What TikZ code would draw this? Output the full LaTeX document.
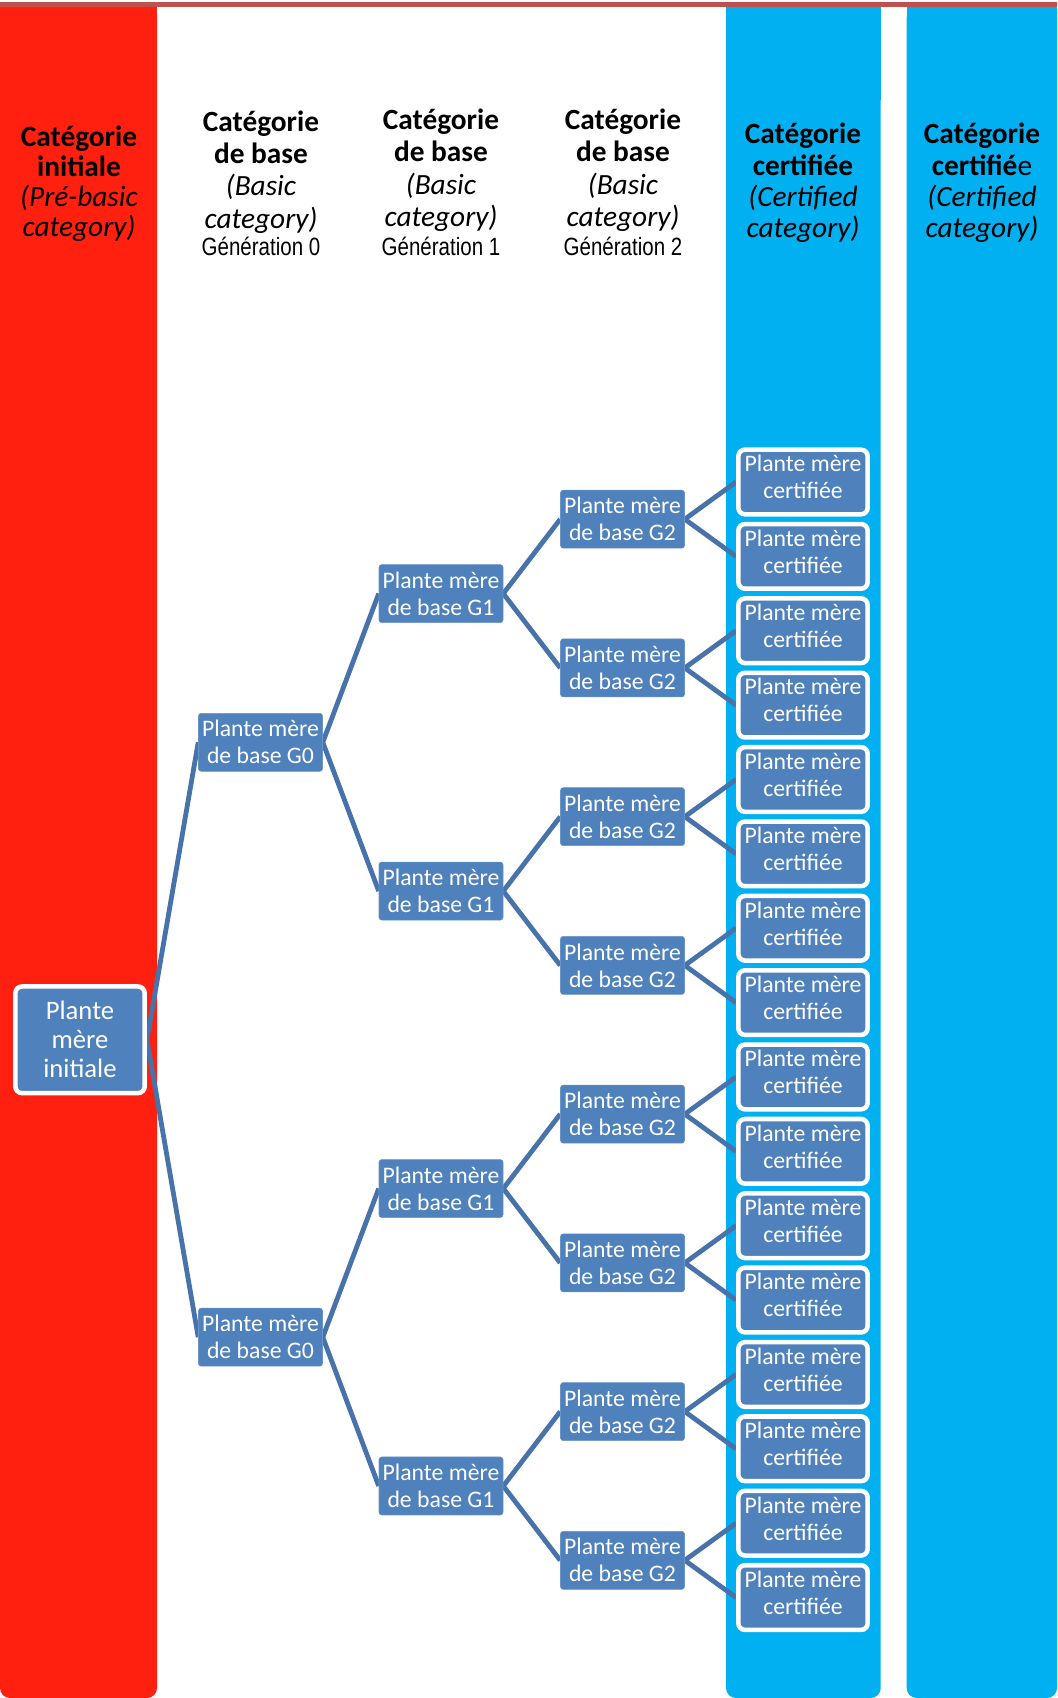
\documentclass[tikz,border=0pt]{standalone}
\usepackage{fontspec}
\setmainfont{Carlito}
\newfontfamily\narrowfont[FakeStretch=0.82]{Liberation Sans}
\usetikzlibrary{backgrounds}
\definecolor{initred}{RGB}{255,32,16}
\definecolor{certcyan}{RGB}{0,176,240}
\definecolor{nodeblue}{RGB}{79,129,189}
\definecolor{linkblue}{RGB}{72,114,170}
\definecolor{topline}{RGB}{192,80,77}
\newcommand{\gentext}[1]{{\narrowfont\fontsize{18.75}{19.5}\selectfont #1}}
\tikzset{
  basebox/.style={fill=nodeblue, draw=nodeblue!85!white, line width=0.4pt, rounded corners=2pt,
    minimum width=93pt, minimum height=43.5pt, inner sep=0pt, align=center, text=white,
    font=\fontsize{17.8}{20.25}\selectfont},
  certbox/.style={basebox, draw=white, line width=3.4pt, rounded corners=5pt,
    minimum width=97pt, minimum height=48.5pt, text depth=7.4pt},
  initbox/.style={certbox, text depth=, minimum height=80pt, font=\fontsize{20}{21.75}\selectfont},
  headtext/.style={anchor=north, inner sep=0pt, align=center, font=\fontsize{22}{23.5}\selectfont},
  link/.style={draw=linkblue, line width=3.6pt},
}
\begin{document}
\begin{tikzpicture}[x=0.75pt, y=-0.75pt]
    \useasboundingbox (0,0) rectangle (1057,1698);
    % category columns
    \begin{scope}[on background layer]
        \fill[white] (0,0) rectangle (1057,1698);
        \fill[initred, rounded corners=7.5pt] (0,7) rectangle (157,1698);
        \fill[initred] (0,7) rectangle (157,100);
        \fill[certcyan, rounded corners=7.5pt] (726,7) rectangle (880.7,1698);
        \fill[certcyan] (726,7) rectangle (880.7,100);
        \fill[certcyan, rounded corners=7.5pt] (906.7,7) rectangle (1057,1698);
        \fill[certcyan] (906.7,7) rectangle (1057,100);
    \end{scope}
    \draw[topline, line width=3.75pt] (0,4.5) -- (1057,4.5);

    % column headings
    \node[headtext, font=\fontsize{22}{22.5}\selectfont] (head-init) at (79,126) {\textbf{Catégorie}\\\textbf{initiale}\\\textit{(Pré-basic}\\\textit{category)}};
    \node[headtext] (head-g0) at (261,111) {\textbf{Catégorie}\\\textbf{de base}\\[1pt]\textit{(Basic}\\[0.75pt]\textit{category)}\\[-3pt]\gentext{Génération 0}};
    \node[headtext] (head-g1) at (441,109) {\textbf{Catégorie}\\\textbf{de base}\\[1.5pt]\textit{(Basic}\\[0.75pt]\textit{category)}\\[-2pt]\gentext{Génération 1}};
    \node[headtext] (head-g2) at (623,109) {\textbf{Catégorie}\\\textbf{de base}\\[1.5pt]\textit{(Basic}\\[0.75pt]\textit{category)}\\[-2pt]\gentext{Génération 2}};
    \node[headtext] (head-cert1) at (803,123) {\textbf{Catégorie}\\\textbf{certifiée}\\\textit{(Certified}\\\textit{category)}};
    \node[headtext] (head-cert2) at (982,123) {\textbf{Catégorie}\\\textbf{certifié}e\\\textit{(Certified}\\\textit{category)}};

    % plants
    \node[initbox] (init) at (80,1039.8) {Plante\\mère\\initiale};
    \foreach \i in {1,2}
        \node[basebox] (g0-\i) at (260.5,{742.3+594.9*(\i-1)}) {Plante mère\\de base G0};
    \foreach \i in {1,...,4}
        \node[basebox] (g1-\i) at (441,{593.6+297.46*(\i-1)}) {Plante mère\\de base G1};
    \foreach \i in {1,...,8}
        \node[basebox] (g2-\i) at (622.5,{519.2+148.73*(\i-1)}) {Plante mère\\de base G2};
    \foreach \i in {1,...,16}
        \node[certbox] (cert-\i) at (803,{482+74.37*(\i-1)}) {Plante mère\\certifiée};

    % links
    \begin{scope}[on background layer]
        \foreach \i in {1,2}
            \draw[link] (init.east) -- (g0-\i.west);
        \foreach \i [evaluate=\i as \a using int(2*\i-1), evaluate=\i as \b using int(2*\i)] in {1,2}
            \draw[link] (g1-\a.west) -- (g0-\i.east) -- (g1-\b.west);
        \foreach \i [evaluate=\i as \a using int(2*\i-1), evaluate=\i as \b using int(2*\i)] in {1,...,4}
            \draw[link] (g2-\a.west) -- (g1-\i.east) -- (g2-\b.west);
        \foreach \i [evaluate=\i as \a using int(2*\i-1), evaluate=\i as \b using int(2*\i)] in {1,...,8}
            \draw[link] (cert-\a.west) -- (g2-\i.east) -- (cert-\b.west);
    \end{scope}
\end{tikzpicture}
\end{document}
